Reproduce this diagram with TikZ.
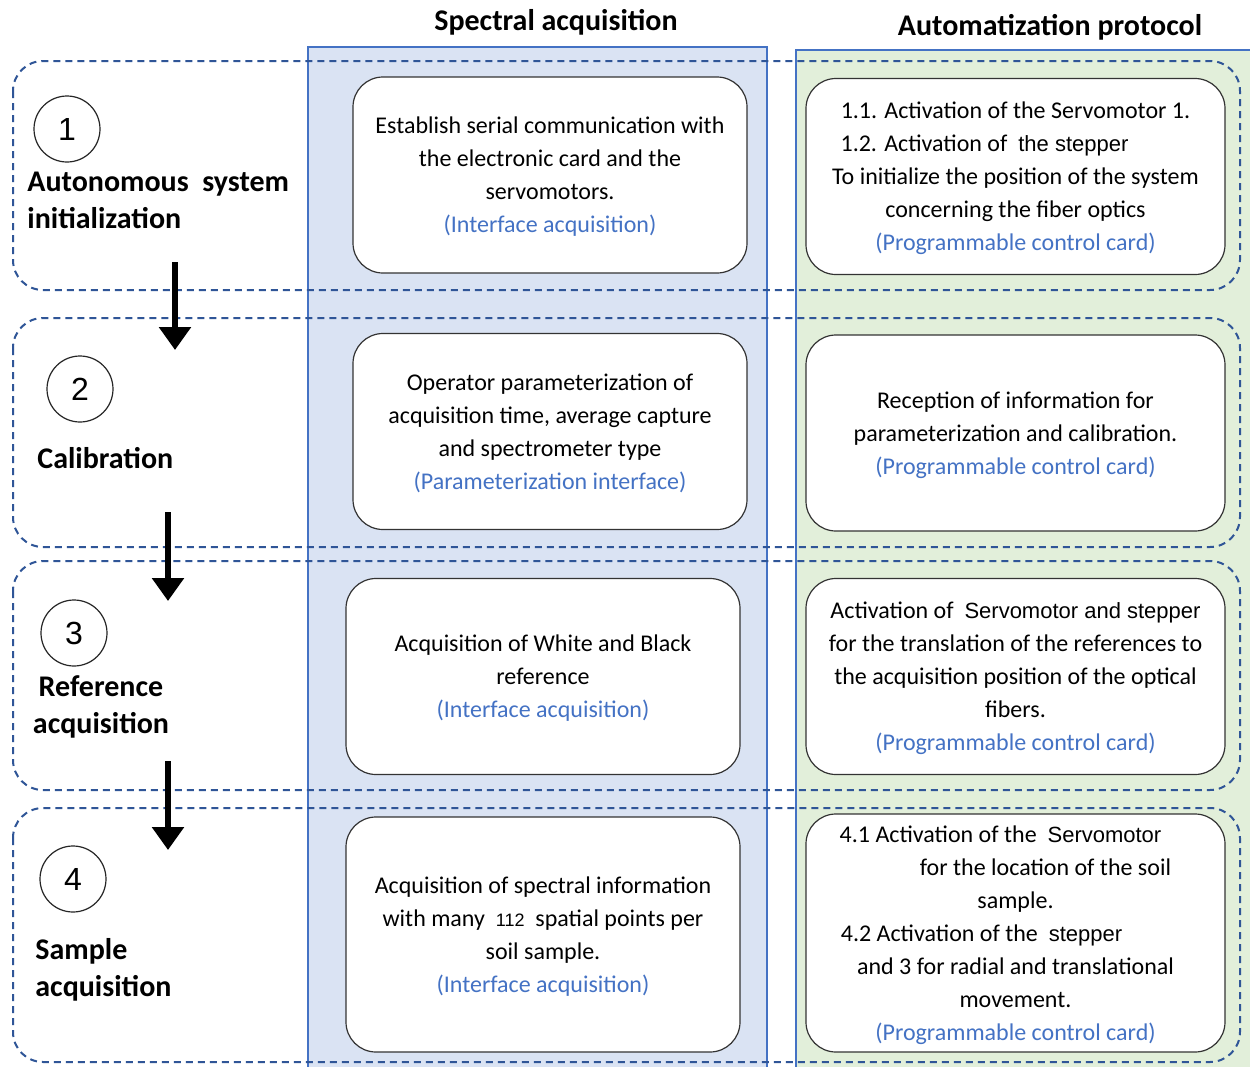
\documentclass[tikz,border=0pt]{standalone}
\usepackage{fontspec}
\setmainfont{Carlito}
\newfontfamily\arialfont{Liberation Sans}
\usepackage{tikz}
\usetikzlibrary{arrows.meta}
\definecolor{bandblue}{RGB}{47,85,151}
\definecolor{colblue}{RGB}{218,227,243}
\definecolor{colgreen}{RGB}{226,239,218}
\definecolor{edgeblue}{RGB}{68,114,196}
\definecolor{noteblue}{RGB}{68,114,196}
\tikzset{>=stealth}
\tikzset{
  stage band/.style={
    draw=bandblue, line width=1pt,
    dash pattern=on 3.5pt off 2.5pt,
    rounded corners=15pt}}
\tikzset{
  task box/.style={
    draw=black!80, fill=white, line width=0.6pt,
    rounded corners=15pt, inner sep=0pt,
    minimum width=197pt, minimum height=98pt,
    align=center, text depth=0pt,
    font=\fontsize{12}{16.5}\selectfont}}
\tikzset{
  card box/.style={task box, minimum width=209.5pt}}
\tikzset{
  step circle/.style={
    draw=black!85, circle, line width=0.6pt,
    minimum size=33pt, inner sep=0pt,
    font=\arialfont\fontsize{16}{18}\selectfont}}
\tikzset{
  stage label/.style={
    inner sep=0pt, font=\bfseries\fontsize{15}{18.5}\selectfont}}
\tikzset{
  flow arrow/.style={
    line width=3pt, -{Triangle[width=15.5pt,length=11.5pt]}}}
\newcommand{\srcnote}[1]{\\\textcolor{noteblue}{(#1)}}
\newcommand{\arialbit}[1]{{\arialfont\fontsize{11}{16.5}\selectfont #1}}
\newcommand{\padbox}[1]{\rule{#1}{0pt}}

\begin{document}
\begin{tikzpicture}[x=0.5pt,y=-0.5pt]
    \useasboundingbox (0,0) rectangle (1250,1067);
    \fill[white] (0,0) rectangle (1250,1067);
    \draw[edgeblue, fill=colblue, line width=0.7pt] (308,47) rectangle (767,1072);
    \draw[edgeblue, fill=colgreen, line width=0.7pt] (796,50) rectangle (1254,1072);
    \node[stage label] (titleL) at (556,22) {Spectral acquisition};
    \node[stage label] (titleR) at (1050,27) {Automatization protocol};

    \draw[stage band] (13,61) rectangle (1240,290);
    \draw[stage band] (13,318) rectangle (1240,547);
    \draw[stage band] (13,561) rectangle (1240,790);
    \draw[stage band] (13,808) rectangle (1240,1062);

    \node[step circle] (n1) at (67,129) {1};
    \node[step circle] (n2) at (80,389) {2};
    \node[step circle] (n3) at (74,633) {3};
    \node[step circle] (n4) at (73,879) {4};

    \node[stage label, anchor=west, align=left] (s1) at (27,200)
        {Autonomous\ \ system\\initialization};
    \node[stage label, anchor=west] (s2) at (37,458) {Calibration};
    \node[stage label, align=center] (s3) at (101,707) {Reference\\acquisition};
    \node[stage label, anchor=west, align=left] (s4) at (35,970) {Sample\\acquisition};

    \node[task box] (m1) at (550,175) {Establish serial communication with\\
        the electronic card and the\\ servomotors.\srcnote{Interface acquisition}};
    \node[task box] (m2) at (550,431.5) {Operator parameterization of\\
        acquisition time, average capture\\ and spectrometer type\srcnote{Parameterization interface}};
    \node[task box] (m3) at (543,676.5) {Acquisition of White and Black\\
        reference\srcnote{Interface acquisition}};
    \node[task box, minimum height=117.5pt] (m4) at (543,934.5) {Acquisition of spectral information\\
        with many \ {\arialfont\fontsize{9}{16.5}\selectfont 112} \ spatial points per\\
        soil sample.\srcnote{Interface acquisition}};

    \node[card box] (r1) at (1015.5,176.5) {1.1. Activation of the Servomotor 1.\\
        1.2. Activation of \ \arialbit{the stepper}\padbox{31pt}\\
        To initialize the position of the system\\
        concerning the fiber optics\srcnote{Programmable control card}};
    \node[card box] (r2) at (1015.5,433) {Reception of information for\\
        parameterization and calibration.\srcnote{Programmable control card}};
    \node[card box] (r3) at (1015.5,676.5) {Activation of \ \arialbit{Servomotor and stepper}\\
        for the translation of the references to\\
        the acquisition position of the optical\\
        fibers.\srcnote{Programmable control card}};
    \node[card box, minimum height=119pt] (r4) at (1015.5,933) {4.1 Activation of the \ \arialbit{Servomotor}\padbox{15pt}\\
        \padbox{30pt}for the location of the soil\\
        sample.\\
        4.2 Activation of the \ \arialbit{stepper}\padbox{34pt}\\
        and 3 for radial and translational\\
        movement.\srcnote{Programmable control card}};

    \coordinate (a1s) at (175,262);
    \coordinate (a1e) at (175,350);
    \coordinate (a2s) at (168,512);
    \coordinate (a2e) at (168,601);
    \coordinate (a3s) at (168,761);
    \coordinate (a3e) at (168,850);
    \draw[flow arrow] (a1s) -- (a1e);
    \draw[flow arrow] (a2s) -- (a2e);
    \draw[flow arrow] (a3s) -- (a3e);
\end{tikzpicture}
\end{document}
